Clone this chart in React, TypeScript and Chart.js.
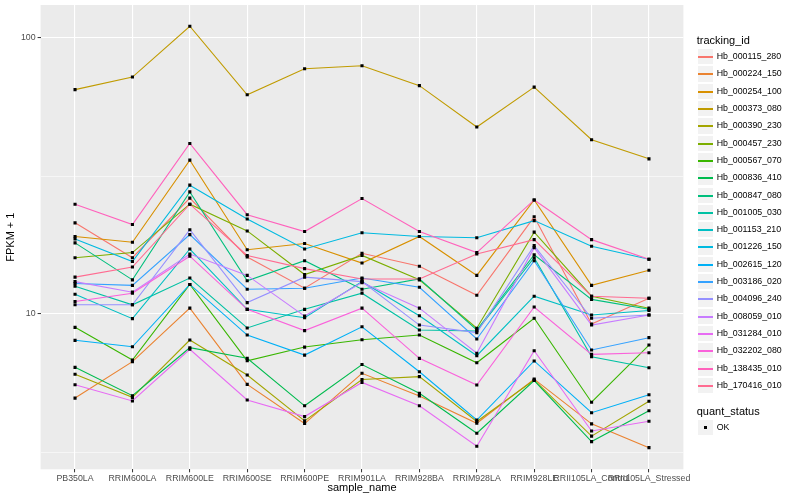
import React, { useEffect, useRef } from "react";
import { Chart, registerables } from "chart.js";

Chart.register(...registerables);

const categories = [
  "PB350LA", "RRIM600LA", "RRIM600LE", "RRIM600SE", "RRIM600PE", "RRIM901LA",
  "RRIM928BA", "RRIM928LA", "RRIM928LE", "RRII105LA_Control", "RRII105LA_Stressed",
];

const hb000115_280 = [21.4, 16.0, 26.3, 16.1, 12.4, 16.6, 14.9, 11.7, 22.5, 9.2, 11.4];
const hb000224_150 = [4.96, 6.72, 10.5, 5.56, 4.01, 6.10, 5.05, 4.02, 5.81, 4.0, 3.28];
const hb000254_100 = [19.1, 18.2, 36.1, 17.1, 18.0, 15.3, 19.1, 13.8, 25.9, 12.7, 14.4];
const hb000373_080 = [65.0, 72.2, 110.3, 62.3, 77.4, 79.3, 67.2, 47.6, 66.4, 42.8, 36.5];
const hb000390_230 = [6.05, 4.99, 8.05, 6.01, 4.1, 5.79, 5.93, 4.08, 5.77, 3.61, 4.83];
const hb000457_230 = [16.0, 16.7, 25.0, 20.0, 13.9, 16.3, 13.3, 8.88, 19.8, 11.6, 10.5];
const hb000567_070 = [8.95, 6.81, 12.8, 6.77, 7.59, 8.07, 8.39, 6.66, 9.65, 4.79, 7.72];
const hb000836_410 = [6.41, 5.06, 7.55, 6.91, 4.65, 6.56, 5.16, 3.7, 5.74, 3.45, 4.46];
const hb000847_080 = [18.1, 13.3, 27.7, 13.2, 15.6, 12.3, 13.4, 8.75, 16.4, 11.3, 10.4];
const hb001005_030 = [12.6, 10.8, 13.5, 8.9, 10.4, 11.9, 8.75, 8.68, 16.0, 7.0, 6.39];
const hb001153_210 = [11.8, 9.62, 17.2, 10.4, 9.7, 13.1, 9.86, 7.06, 11.6, 9.92, 10.3];
const hb001226_150 = [18.7, 15.5, 29.3, 22.1, 17.2, 19.7, 19.1, 18.9, 21.8, 17.6, 15.8];
const hb002615_120 = [8.03, 7.61, 12.8, 8.39, 7.1, 8.99, 6.18, 4.13, 6.76, 4.39, 5.1];
const hb003186_020 = [12.9, 12.7, 19.4, 12.3, 12.4, 13.5, 12.5, 8.12, 15.6, 7.41, 8.21];
const hb004096_240 = [10.8, 10.8, 20.2, 11.0, 13.6, 13.1, 9.12, 8.56, 17.7, 9.65, 9.92];
const hb008059_010 = [13.1, 12.0, 16.5, 13.8, 9.83, 13.0, 10.5, 7.21, 17.4, 9.12, 9.92];
const hb031284_010 = [5.54, 4.84, 7.45, 4.88, 4.25, 5.65, 4.65, 3.32, 7.36, 3.77, 4.09];
const hb032202_080 = [11.1, 11.9, 16.2, 10.4, 8.71, 10.5, 6.91, 5.53, 10.6, 7.14, 7.24];
const hb138435_010 = [25.0, 21.1, 41.5, 22.9, 19.9, 26.2, 19.9, 16.7, 25.9, 18.6, 15.8];
const hb170416_010 = [13.6, 14.8, 25.0, 16.3, 14.6, 13.4, 13.4, 16.5, 18.6, 11.6, 11.4];

const seriesNames = [
  "Hb_000115_280", "Hb_000224_150", "Hb_000254_100", "Hb_000373_080", "Hb_000390_230",
  "Hb_000457_230", "Hb_000567_070", "Hb_000836_410", "Hb_000847_080", "Hb_001005_030",
  "Hb_001153_210", "Hb_001226_150", "Hb_002615_120", "Hb_003186_020", "Hb_004096_240",
  "Hb_008059_010", "Hb_031284_010", "Hb_032202_080", "Hb_138435_010", "Hb_170416_010",
];
const seriesValues = [
  hb000115_280, hb000224_150, hb000254_100, hb000373_080, hb000390_230,
  hb000457_230, hb000567_070, hb000836_410, hb000847_080, hb001005_030,
  hb001153_210, hb001226_150, hb002615_120, hb003186_020, hb004096_240,
  hb008059_010, hb031284_010, hb032202_080, hb138435_010, hb170416_010,
];
const seriesColors = [
  "#F8766D", "#EA8331", "#D89000", "#C09B00", "#A3A500", "#7CAE00", "#39B600",
  "#00BB4E", "#00BF7D", "#00C1A3", "#00BFC4", "#00BAE0", "#00B0F6", "#35A2FF",
  "#9590FF", "#C77CFF", "#E76BF3", "#FA62DB", "#FF62BC", "#FF6C91",
];

const yMajorBreaks = [10, 100];
const yMinorBreaks = [3.1623, 31.623];
const yMin = 2.738;
const yMax = 131.7;

const FONT = "'Liberation Sans', Arial, Helvetica, sans-serif";

export default function App() {
  const ref = useRef<HTMLCanvasElement | null>(null);

  useEffect(() => {
    const canvas = ref.current;
    if (!canvas) return;

    const lineSets = seriesValues.map((vals, i) => ({
      label: seriesNames[i],
      data: vals.map((v, j) => ({ x: j, y: v })),
      borderColor: seriesColors[i],
      backgroundColor: seriesColors[i],
      borderWidth: 1.1,
      pointRadius: 0,
      tension: 0,
      fill: false,
      order: seriesValues.length - i,
    }));
    const pointSet = {
      label: "OK",
      data: seriesValues.flatMap((vals) => vals.map((v, j) => ({ x: j, y: v }))),
      showLine: false,
      pointStyle: "rect",
      pointRadius: 2.2,
      pointBackgroundColor: "#000000",
      pointBorderColor: "#000000",
      pointBorderWidth: 0,
      borderColor: "#000000",
      order: 0,
    };

    const bgPlugin = {
      id: "panelBg",
      beforeDraw(chart: any) {
        const { ctx, chartArea } = chart;
        ctx.save();
        ctx.fillStyle = "#FFFFFF";
        ctx.fillRect(0, 0, chart.width, chart.height);
        ctx.fillStyle = "#EBEBEB";
        ctx.fillRect(chartArea.left, chartArea.top, chartArea.right - chartArea.left, chartArea.bottom - chartArea.top);
        ctx.restore();
      },
    };

    const chart = new Chart(canvas, {
      type: "line",
      data: { datasets: [...lineSets, pointSet] as any },
      plugins: [bgPlugin],
      options: {
        animation: false,
        responsive: false,
        events: [],
        layout: { padding: { left: 0, right: 116.6, top: 5, bottom: 0 } },
        plugins: { legend: { display: false }, tooltip: { enabled: false } },
        scales: {
          x: {
            type: "linear",
            min: -0.6,
            max: 10.6,
            afterBuildTicks: (scale: any) => {
              scale.ticks = categories.map((_, i) => ({ value: i }));
            },
            afterFit: (scale: any) => {
              scale.height = 30.7;
              scale.paddingLeft = 0;
              scale.paddingRight = 0;
            },
            border: { display: false },
            grid: {
              color: "#FFFFFF",
              lineWidth: 1.1,
              tickColor: "#333333",
              tickLength: 3,
              tickWidth: 1,
            },
            ticks: {
              autoSkip: false,
              maxRotation: 0,
              minRotation: 0,
              padding: 1,
              color: "#4D4D4D",
              font: { family: FONT, size: 8.8 },
              callback: (v: any) => categories[v as number] ?? "",
            },
            title: {
              display: true,
              text: "sample_name",
              color: "#000000",
              font: { family: FONT, size: 11 },
              padding: { top: 0, bottom: 5 },
            },
          },
          y: {
            type: "logarithmic",
            min: yMin,
            max: yMax,
            afterBuildTicks: (scale: any) => {
              const all = [...yMinorBreaks, ...yMajorBreaks].sort((a, b) => a - b);
              scale.ticks = all.map((v) => ({ value: v, major: yMajorBreaks.includes(v) }));
            },
            afterFit: (scale: any) => {
              scale.width = 40.6;
              scale.paddingTop = 0;
              scale.paddingBottom = 0;
            },
            border: { display: false },
            grid: {
              color: "#FFFFFF",
              lineWidth: (ctx: any) => (yMajorBreaks.includes(ctx.tick?.value) ? 1.1 : 0.55),
              tickColor: (ctx: any) => (yMajorBreaks.includes(ctx.tick?.value) ? "#333333" : "rgba(0,0,0,0)"),
              tickLength: 3,
              tickWidth: 1,
            },
            ticks: {
              padding: 2,
              color: "#4D4D4D",
              font: { family: FONT, size: 8.8 },
              callback: (v: any) => (yMajorBreaks.includes(v) ? String(v) : ""),
            },
            title: {
              display: true,
              text: "FPKM + 1",
              color: "#000000",
              font: { family: FONT, size: 11 },
              padding: { top: 4, bottom: 0 },
            },
          },
        },
      } as any,
    });
    return () => chart.destroy();
  }, []);

  const keyTop0 = 48.1;
  const keyStep = 17.3;

  return (
    <div style={{ position: "absolute", left: 0, top: 0, width: 800, height: 500, background: "#fff", fontFamily: FONT }}>
      <canvas ref={ref} width={800} height={500} style={{ position: "absolute", left: 0, top: 0, width: 800, height: 500 }} />
      <div style={{ position: "absolute", left: 696.7, top: 33, fontSize: 11, lineHeight: "15px", color: "#000" }}>tracking_id</div>
      {seriesNames.map((name, i) => {
        const top = keyTop0 + keyStep * i;
        return (
          <React.Fragment key={name}>
            <div
              style={{
                position: "absolute",
                left: 697,
                top,
                width: 17.3,
                height: 17.3,
                boxSizing: "border-box",
                border: "0.7px solid #FFFFFF",
                background: "#F2F2F2",
              }}
            />
            <div
              style={{
                position: "absolute",
                left: 698,
                width: 15,
                top: Math.round(top + 8),
                height: 1.5,
                background: seriesColors[i],
              }}
            />
            <div
              style={{
                position: "absolute",
                left: 716.7,
                top,
                height: 17.3,
                lineHeight: "17.3px",
                fontSize: 8.8,
                color: "#000",
                whiteSpace: "nowrap",
              }}
            >
              {name}
            </div>
          </React.Fragment>
        );
      })}
      <div style={{ position: "absolute", left: 696.7, top: 404, fontSize: 11, lineHeight: "15px", color: "#000" }}>quant_status</div>
      <div
        style={{
          position: "absolute",
          left: 697,
          top: 419,
          width: 17.3,
          height: 17.3,
          boxSizing: "border-box",
          border: "0.7px solid #FFFFFF",
          background: "#F2F2F2",
        }}
      />
      <div style={{ position: "absolute", left: 704, top: 426, width: 3, height: 3, background: "#000" }} />
      <div style={{ position: "absolute", left: 716.7, top: 419, height: 17.3, lineHeight: "17.3px", fontSize: 8.8, color: "#000" }}>OK</div>
    </div>
  );
}
